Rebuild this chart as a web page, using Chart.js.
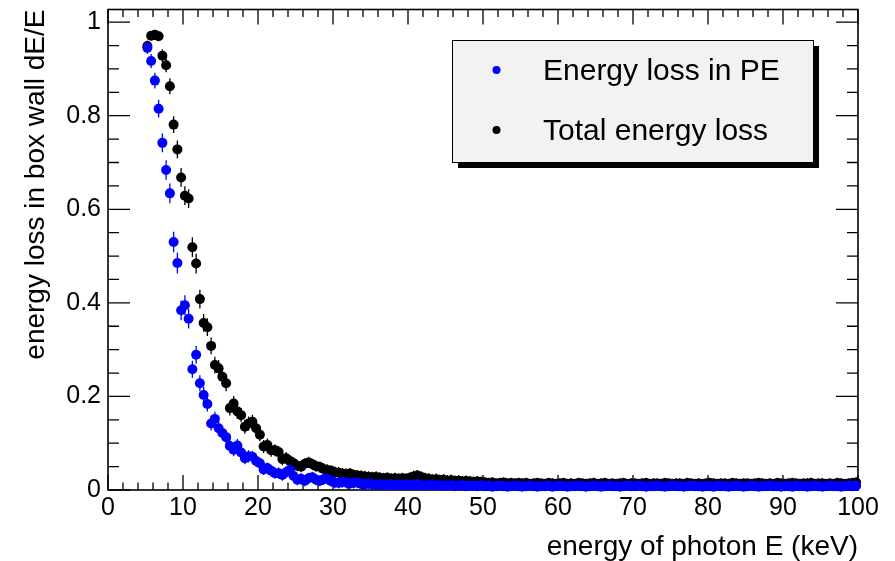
<!DOCTYPE html>
<html>
<head>
<meta charset="utf-8">
<script src="https://cdn.jsdelivr.net/npm/chart.js@4"></script>
<style>
  html, body { margin: 0; padding: 0; background: #fff; }
  #chart { display: block; }
</style>
</head>
<body>
<canvas id="chart" width="895" height="561"></canvas>
<script>
// photon energy bin centres (keV), 0.5 keV bins
const energies = [
  5.25, 5.75, 6.25, 6.75, 7.25, 7.75, 8.25, 8.75, 9.25, 9.75,
  10.25, 10.75, 11.25, 11.75, 12.25, 12.75, 13.25, 13.75, 14.25, 14.75,
  15.25, 15.75, 16.25, 16.75, 17.25, 17.75, 18.25, 18.75, 19.25, 19.75,
  20.25, 20.75, 21.25, 21.75, 22.25, 22.75, 23.25, 23.75, 24.25, 24.75,
  25.25, 25.75, 26.25, 26.75, 27.25, 27.75, 28.25, 28.75, 29.25, 29.75,
  30.25, 30.75, 31.25, 31.75, 32.25, 32.75, 33.25, 33.75, 34.25, 34.75,
  35.25, 35.75, 36.25, 36.75, 37.25, 37.75, 38.25, 38.75, 39.25, 39.75,
  40.25, 40.75, 41.25, 41.75, 42.25, 42.75, 43.25, 43.75, 44.25, 44.75,
  45.25, 45.75, 46.25, 46.75, 47.25, 47.75, 48.25, 48.75, 49.25, 49.75,
  50.25, 50.75, 51.25, 51.75, 52.25, 52.75, 53.25, 53.75, 54.25, 54.75,
  55.25, 55.75, 56.25, 56.75, 57.25, 57.75, 58.25, 58.75, 59.25, 59.75,
  60.25, 60.75, 61.25, 61.75, 62.25, 62.75, 63.25, 63.75, 64.25, 64.75,
  65.25, 65.75, 66.25, 66.75, 67.25, 67.75, 68.25, 68.75, 69.25, 69.75,
  70.25, 70.75, 71.25, 71.75, 72.25, 72.75, 73.25, 73.75, 74.25, 74.75,
  75.25, 75.75, 76.25, 76.75, 77.25, 77.75, 78.25, 78.75, 79.25, 79.75,
  80.25, 80.75, 81.25, 81.75, 82.25, 82.75, 83.25, 83.75, 84.25, 84.75,
  85.25, 85.75, 86.25, 86.75, 87.25, 87.75, 88.25, 88.75, 89.25, 89.75,
  90.25, 90.75, 91.25, 91.75, 92.25, 92.75, 93.25, 93.75, 94.25, 94.75,
  95.25, 95.75, 96.25, 96.75, 97.25, 97.75, 98.25, 98.75, 99.25, 99.75
];

// energy loss in PE
const lossPE = [
  0.945, 0.917, 0.875, 0.815, 0.742, 0.684, 0.634, 0.530, 0.485, 0.384,
  0.395, 0.366, 0.258, 0.289, 0.228, 0.203, 0.184, 0.142, 0.152, 0.132,
  0.122, 0.113, 0.094, 0.086, 0.095, 0.080, 0.068, 0.072, 0.071, 0.062,
  0.057, 0.044, 0.047, 0.041, 0.036, 0.036, 0.032, 0.038, 0.043, 0.030,
  0.022, 0.024, 0.020, 0.025, 0.027, 0.022, 0.020, 0.023, 0.024, 0.019,
  0.016, 0.015, 0.017, 0.016, 0.014, 0.015, 0.016, 0.013, 0.012, 0.014,
  0.012, 0.011, 0.012, 0.010, 0.011, 0.012, 0.010, 0.011, 0.010, 0.011,
  0.010, 0.011, 0.012, 0.010, 0.009, 0.010, 0.011, 0.009, 0.010, 0.009,
  0.009, 0.010, 0.008, 0.009, 0.010, 0.008, 0.009, 0.009, 0.008, 0.010,
  0.008, 0.009, 0.007, 0.008, 0.009, 0.008, 0.007, 0.008, 0.009, 0.008,
  0.007, 0.008, 0.009, 0.008, 0.007, 0.008, 0.008, 0.009, 0.007, 0.008,
  0.009, 0.008, 0.007, 0.008, 0.008, 0.009, 0.008, 0.007, 0.008, 0.009,
  0.008, 0.007, 0.008, 0.009, 0.008, 0.008, 0.007, 0.008, 0.009, 0.008,
  0.008, 0.009, 0.008, 0.007, 0.008, 0.008, 0.009, 0.008, 0.007, 0.008,
  0.009, 0.008, 0.008, 0.007, 0.008, 0.009, 0.008, 0.008, 0.007, 0.008,
  0.008, 0.007, 0.009, 0.008, 0.008, 0.007, 0.008, 0.009, 0.008, 0.007,
  0.008, 0.009, 0.008, 0.007, 0.008, 0.008, 0.009, 0.008, 0.008, 0.007,
  0.008, 0.008, 0.007, 0.009, 0.008, 0.008, 0.007, 0.008, 0.009, 0.008,
  0.007, 0.008, 0.009, 0.008, 0.008, 0.007, 0.008, 0.009, 0.008, 0.009
];
const errPE = [
  0.013, 0.015, 0.017, 0.019, 0.020, 0.021, 0.021, 0.022, 0.022, 0.021,
  0.021, 0.021, 0.018, 0.019, 0.017, 0.017, 0.016, 0.015, 0.015, 0.015,
  0.014, 0.014, 0.014, 0.014, 0.014, 0.013, 0.013, 0.013, 0.013, 0.013,
  0.012, 0.012, 0.012, 0.012, 0.012, 0.012, 0.012, 0.012, 0.012, 0.012,
  0.012, 0.012, 0.012, 0.012, 0.012, 0.012, 0.012, 0.012, 0.012, 0.012,
  0.012, 0.012, 0.012, 0.012, 0.012, 0.012, 0.012, 0.012, 0.012, 0.012,
  0.012, 0.012, 0.012, 0.012, 0.012, 0.012, 0.012, 0.012, 0.012, 0.012,
  0.012, 0.012, 0.012, 0.012, 0.012, 0.012, 0.012, 0.012, 0.012, 0.012,
  0.012, 0.012, 0.012, 0.012, 0.012, 0.012, 0.012, 0.012, 0.012, 0.012,
  0.012, 0.012, 0.012, 0.012, 0.012, 0.012, 0.012, 0.012, 0.012, 0.012,
  0.012, 0.012, 0.012, 0.012, 0.012, 0.012, 0.012, 0.012, 0.012, 0.012,
  0.012, 0.012, 0.012, 0.012, 0.012, 0.012, 0.012, 0.012, 0.012, 0.012,
  0.012, 0.012, 0.012, 0.012, 0.012, 0.012, 0.012, 0.012, 0.012, 0.012,
  0.012, 0.012, 0.012, 0.012, 0.012, 0.012, 0.012, 0.012, 0.012, 0.012,
  0.012, 0.012, 0.012, 0.012, 0.012, 0.012, 0.012, 0.012, 0.012, 0.012,
  0.012, 0.012, 0.012, 0.012, 0.012, 0.012, 0.012, 0.012, 0.012, 0.012,
  0.012, 0.012, 0.012, 0.012, 0.012, 0.012, 0.012, 0.012, 0.012, 0.012,
  0.012, 0.012, 0.012, 0.012, 0.012, 0.012, 0.012, 0.012, 0.012, 0.012,
  0.012, 0.012, 0.012, 0.012, 0.012, 0.012, 0.012, 0.012, 0.012, 0.012
];

// total energy loss
const lossTotal = [
  0.949, 0.971, 0.973, 0.970, 0.928, 0.908, 0.863, 0.781, 0.728, 0.668,
  0.629, 0.623, 0.519, 0.484, 0.408, 0.357, 0.348, 0.308, 0.267, 0.260,
  0.242, 0.228, 0.175, 0.185, 0.168, 0.160, 0.135, 0.142, 0.146, 0.132,
  0.118, 0.093, 0.096, 0.085, 0.085, 0.081, 0.066, 0.068, 0.062, 0.057,
  0.052, 0.050, 0.056, 0.059, 0.055, 0.051, 0.049, 0.045, 0.043, 0.041,
  0.038, 0.037, 0.035, 0.034, 0.035, 0.032, 0.031, 0.030, 0.029, 0.028,
  0.027, 0.028, 0.026, 0.025, 0.026, 0.024, 0.025, 0.024, 0.025, 0.024,
  0.026, 0.029, 0.031, 0.028, 0.025, 0.024, 0.022, 0.023, 0.021, 0.022,
  0.020, 0.021, 0.019, 0.020, 0.018, 0.019, 0.018, 0.017, 0.018, 0.017,
  0.016, 0.015, 0.016, 0.014, 0.015, 0.016, 0.014, 0.015, 0.014, 0.015,
  0.014, 0.015, 0.013, 0.014, 0.015, 0.014, 0.013, 0.015, 0.014, 0.013,
  0.014, 0.015, 0.013, 0.014, 0.013, 0.015, 0.014, 0.013, 0.014, 0.015,
  0.013, 0.014, 0.015, 0.013, 0.014, 0.013, 0.014, 0.015, 0.013, 0.014,
  0.014, 0.013, 0.014, 0.015, 0.013, 0.014, 0.014, 0.013, 0.015, 0.014,
  0.013, 0.014, 0.014, 0.013, 0.015, 0.014, 0.013, 0.014, 0.013, 0.014,
  0.015, 0.014, 0.013, 0.014, 0.014, 0.013, 0.015, 0.014, 0.013, 0.014,
  0.014, 0.013, 0.014, 0.015, 0.014, 0.013, 0.014, 0.013, 0.015, 0.014,
  0.013, 0.014, 0.015, 0.014, 0.013, 0.014, 0.014, 0.015, 0.013, 0.014,
  0.014, 0.013, 0.014, 0.013, 0.015, 0.014, 0.013, 0.014, 0.015, 0.016
];
const errTotal = [
  0.012, 0.010, 0.010, 0.010, 0.014, 0.015, 0.017, 0.018, 0.019, 0.020,
  0.020, 0.020, 0.021, 0.021, 0.020, 0.019, 0.019, 0.018, 0.018, 0.018,
  0.017, 0.017, 0.016, 0.016, 0.016, 0.015, 0.015, 0.015, 0.015, 0.015,
  0.014, 0.014, 0.014, 0.014, 0.013, 0.013, 0.013, 0.013, 0.013, 0.013,
  0.012, 0.012, 0.012, 0.012, 0.012, 0.012, 0.012, 0.012, 0.012, 0.012,
  0.012, 0.012, 0.012, 0.012, 0.012, 0.012, 0.012, 0.012, 0.012, 0.012,
  0.012, 0.012, 0.012, 0.012, 0.012, 0.012, 0.012, 0.012, 0.012, 0.012,
  0.012, 0.012, 0.012, 0.012, 0.012, 0.012, 0.012, 0.012, 0.012, 0.012,
  0.012, 0.012, 0.012, 0.012, 0.012, 0.012, 0.012, 0.012, 0.012, 0.012,
  0.011, 0.011, 0.011, 0.011, 0.011, 0.011, 0.011, 0.011, 0.011, 0.011,
  0.011, 0.011, 0.011, 0.011, 0.011, 0.011, 0.011, 0.011, 0.011, 0.011,
  0.011, 0.011, 0.011, 0.011, 0.011, 0.011, 0.011, 0.011, 0.011, 0.011,
  0.011, 0.011, 0.011, 0.011, 0.011, 0.011, 0.011, 0.011, 0.011, 0.011,
  0.011, 0.011, 0.011, 0.011, 0.011, 0.011, 0.011, 0.011, 0.011, 0.011,
  0.011, 0.011, 0.011, 0.011, 0.011, 0.011, 0.011, 0.011, 0.011, 0.011,
  0.011, 0.011, 0.011, 0.011, 0.011, 0.011, 0.011, 0.011, 0.011, 0.011,
  0.011, 0.011, 0.011, 0.011, 0.011, 0.011, 0.011, 0.011, 0.011, 0.011,
  0.011, 0.011, 0.011, 0.011, 0.011, 0.011, 0.011, 0.011, 0.011, 0.011,
  0.011, 0.011, 0.011, 0.011, 0.011, 0.011, 0.011, 0.011, 0.011, 0.011
];

const xTicks = [0, 10, 20, 30, 40, 50, 60, 70, 80, 90, 100];
const xMinorTicks = [2, 4, 6, 8, 12, 14, 16, 18, 22, 24, 26, 28, 32, 34, 36, 38, 42, 44, 46, 48,
  52, 54, 56, 58, 62, 64, 66, 68, 72, 74, 76, 78, 82, 84, 86, 88, 92, 94, 96, 98];
const yTicks = [0, 0.2, 0.4, 0.6, 0.8, 1];
const yMinorTicks = [0.05, 0.1, 0.15, 0.25, 0.3, 0.35, 0.45, 0.5, 0.55, 0.65, 0.7, 0.75, 0.85, 0.9, 0.95];

const FONT = '"Liberation Sans", Arial, Helvetica, sans-serif';

function toPoints(xs, ys) {
  return xs.map((x, i) => ({ x: x, y: ys[i] }));
}

// vertical error bars, drawn just before each dataset's markers
const errorBars = {
  id: "errorBars",
  beforeDatasetDraw(chart, args) {
    const ds = chart.data.datasets[args.index];
    const yScale = chart.scales.y;
    const ctx = chart.ctx;
    ctx.save();
    ctx.strokeStyle = ds.pointBackgroundColor;
    ctx.lineWidth = 1.3;
    ctx.beginPath();
    args.meta.data.forEach((pt, i) => {
      const v = ds.data[i].y;
      const e = ds.errors[i];
      ctx.moveTo(pt.x, yScale.getPixelForValue(v + e));
      ctx.lineTo(pt.x, yScale.getPixelForValue(Math.max(0, v - e)));
    });
    ctx.stroke();
    ctx.restore();
  },
};

// ROOT style frame with inward ticks on all four sides
const frameTicks = {
  id: "frameTicks",
  beforeDatasetsDraw(chart) {
    const { ctx, chartArea: a, scales: { x, y } } = chart;
    ctx.save();
    ctx.strokeStyle = "#000";
    ctx.lineWidth = 1.3;
    ctx.beginPath();
    const xt = (v, len) => {
      const px = x.getPixelForValue(v);
      ctx.moveTo(px, a.bottom); ctx.lineTo(px, a.bottom - len);
      ctx.moveTo(px, a.top); ctx.lineTo(px, a.top + len);
    };
    const yt = (v, len) => {
      const py = y.getPixelForValue(v);
      ctx.moveTo(a.left, py); ctx.lineTo(a.left + len, py);
      ctx.moveTo(a.right, py); ctx.lineTo(a.right - len, py);
    };
    xTicks.forEach((v) => xt(v, 15));
    xMinorTicks.forEach((v) => xt(v, 7.5));
    yTicks.forEach((v) => yt(v, 22));
    yMinorTicks.forEach((v) => yt(v, 11));
    ctx.stroke();
    ctx.lineWidth = 1.6;
    ctx.strokeRect(a.left, a.top, a.right - a.left, a.bottom - a.top);
    ctx.restore();
  },
};

// boxed legend with drop shadow
const boxLegend = {
  id: "boxLegend",
  afterDraw(chart) {
    const ctx = chart.ctx;
    const bx = 452, by = 40, bw = 361, bh = 122;
    ctx.save();
    ctx.fillStyle = "#000";
    ctx.fillRect(bx + 6, by + 6, bw, bh);
    ctx.fillStyle = "#f2f2f2";
    ctx.fillRect(bx, by, bw, bh);
    ctx.strokeStyle = "#000";
    ctx.lineWidth = 1;
    ctx.strokeRect(bx + 0.5, by + 0.5, bw, bh);
    ctx.font = "30px " + FONT;
    ctx.textBaseline = "alphabetic";
    ctx.textAlign = "left";
    chart.data.datasets.forEach((ds, i) => {
      const cy = 70 + i * 60;
      ctx.fillStyle = ds.pointBackgroundColor;
      ctx.beginPath();
      ctx.arc(496.5, cy, 4, 0, Math.PI * 2);
      ctx.fill();
      ctx.fillStyle = "#000";
      ctx.fillText(ds.label, 543, cy + 10);
    });
    ctx.restore();
  },
};

new Chart(document.getElementById("chart"), {
  type: "scatter",
  data: {
    datasets: [
      {
        label: "Energy loss in PE",
        data: toPoints(energies, lossPE),
        errors: errPE,
        pointBackgroundColor: "#0000ff",
        backgroundColor: "#0000ff",
        pointRadius: 5,
        pointBorderWidth: 0,
        order: 0,
        clip: false,
      },
      {
        label: "Total energy loss",
        data: toPoints(energies, lossTotal),
        errors: errTotal,
        pointBackgroundColor: "#000000",
        backgroundColor: "#000000",
        pointRadius: 5,
        pointBorderWidth: 0,
        order: 1,
        clip: false,
      },
    ],
  },
  options: {
    responsive: false,
    devicePixelRatio: 1,
    animation: false,
    events: [],
    layout: { padding: { top: 9.5, right: 37, left: 0, bottom: 0 } },
    plugins: {
      legend: { display: false },
      tooltip: { enabled: false },
    },
    scales: {
      x: {
        type: "linear",
        min: 0,
        max: 100,
        afterBuildTicks: (s) => { s.ticks = xTicks.map((v) => ({ value: v })); },
        afterFit: (s) => { s.height = 71; s.paddingLeft = 0; s.paddingRight = 0; },
        grid: { display: false, drawTicks: false },
        border: { display: false },
        ticks: {
          autoSkip: false,
          maxRotation: 0,
          padding: 3,
          color: "#000",
          font: { family: FONT, size: 25 },
        },
        title: {
          display: true,
          text: "energy of photon E (keV)",
          align: "end",
          color: "#000",
          font: { family: FONT, size: 28, lineHeight: 1 },
          padding: { top: 0, bottom: 0 },
        },
      },
      y: {
        type: "linear",
        min: 0,
        max: 1.027,
        afterBuildTicks: (s) => { s.ticks = yTicks.map((v) => ({ value: v })); },
        afterFit: (s) => { s.width = 108; s.paddingTop = 0; s.paddingBottom = 0; },
        grid: { display: false, drawTicks: false },
        border: { display: false },
        ticks: {
          padding: 7,
          color: "#000",
          font: { family: FONT, size: 25 },
          callback: (v) => String(v),
        },
        title: {
          display: true,
          text: "energy loss in box wall dE/E",
          align: "end",
          color: "#000",
          font: { family: FONT, size: 28, lineHeight: 1 },
          padding: { top: 22, bottom: 0 },
        },
      },
    },
  },
  plugins: [frameTicks, errorBars, boxLegend],
});
</script>
</body>
</html>
